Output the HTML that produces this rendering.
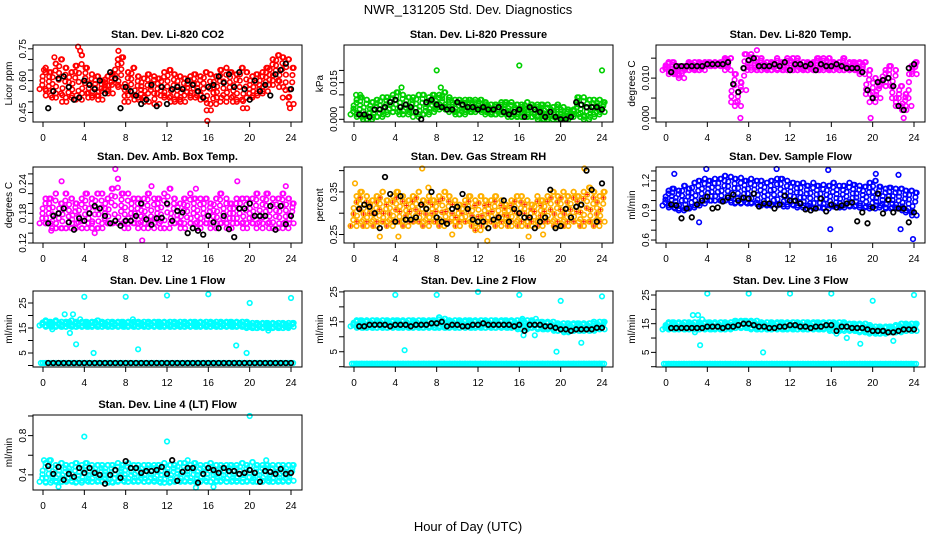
<!DOCTYPE html>
<html><head><meta charset="utf-8">
<style>
html,body{margin:0;padding:0;background:#fff;}
svg{display:block;font-family:"Liberation Sans",Arial,sans-serif;}
</style></head>
<body>
<svg id="chart" width="936" height="540" viewBox="0 0 936 540" xmlns="http://www.w3.org/2000/svg">
<rect x="0" y="0" width="936" height="540" fill="#fff"/>
<text x="468" y="14" text-anchor="middle" font-size="13">NWR_131205 Std. Dev. Diagnostics</text>
<text x="468" y="531" text-anchor="middle" font-size="13">Hour of Day (UTC)</text>
<g id="panels"></g>
</svg>
<script>
// ---- shared x data ----
const colHours = [0,0.5,1,1.5,2,2.5,3,3.5,4,4.5,5,5.5,6,6.5,7,7.5,8,8.5,9,9.5,10,10.5,11,11.5,12,12.5,13,13.5,14,14.5,15,15.5,16,16.5,17,17.5,18,18.5,19,19.5,20,20.5,21,21.5,22,22.5,23,23.5,24];
const blkHours = [0.5,1,1.5,2,2.5,3,3.5,4,4.5,5,5.5,6,6.5,7,7.5,8,8.5,9,9.5,10,10.5,11,11.5,12,12.5,13,13.5,14,14.5,15,15.5,16,16.5,17,17.5,18,18.5,19,19.5,20,20.5,21,21.5,22,22.5,23,23.5,24];
const xTicks = [0,4,8,12,16,20,24];

// ---- P1 CO2 ----
const co2Hi = [0.66,0.64,0.68,0.70,0.66,0.64,0.67,0.72,0.66,0.63,0.62,0.60,0.62,0.63,0.70,0.71,0.64,0.66,0.62,0.61,0.63,0.62,0.61,0.64,0.65,0.63,0.62,0.61,0.62,0.63,0.62,0.64,0.63,0.62,0.65,0.66,0.64,0.63,0.66,0.64,0.62,0.63,0.64,0.66,0.70,0.72,0.71,0.70,0.66];
const co2Lo = [0.56,0.53,0.52,0.54,0.50,0.52,0.53,0.51,0.54,0.52,0.53,0.51,0.55,0.54,0.58,0.57,0.50,0.53,0.51,0.52,0.50,0.54,0.49,0.53,0.52,0.50,0.51,0.50,0.53,0.52,0.53,0.51,0.46,0.49,0.52,0.50,0.52,0.50,0.51,0.47,0.52,0.53,0.54,0.55,0.58,0.60,0.57,0.52,0.49];
const co2Blk = [0.47,0.55,0.61,0.62,0.57,0.51,0.52,0.60,0.58,0.56,0.60,0.54,0.64,0.61,0.47,0.57,0.55,0.53,0.49,0.51,0.58,0.48,0.57,0.49,0.56,0.57,0.56,0.60,0.58,0.55,0.52,0.57,0.58,0.62,0.59,0.63,0.57,0.64,0.56,0.51,0.60,0.55,0.58,0.53,0.63,0.65,0.68,0.56];
const co2OutX = [3.4,3.6,7.3,1.1,0.1,15.9,23.9];
const co2OutY = [0.76,0.74,0.74,0.71,0.65,0.41,0.47];

// ---- P2 Pressure ----
const prsHi = [0.008,0.009,0.008,0.007,0.008,0.009,0.009,0.010,0.011,0.010,0.009,0.009,0.010,0.010,0.009,0.010,0.010,0.011,0.009,0.008,0.008,0.008,0.008,0.008,0.008,0.007,0.006,0.006,0.007,0.007,0.007,0.006,0.006,0.007,0.006,0.006,0.006,0.006,0.005,0.006,0.005,0.004,0.004,0.009,0.009,0.008,0.008,0.008,0.007];
const prsLo = [0.002,0.001,0.000,0.000,0.001,0.001,0.002,0.003,0.003,0.002,0.002,0.003,0.001,0.002,0.002,0.003,0.004,0.005,0.004,0.003,0.002,0.002,0.003,0.003,0.004,0.003,0.002,0.002,0.002,0.002,0.001,0.001,0.001,0.001,0.001,0.001,0.000,0.000,0.000,0.001,0.000,0.000,0.001,0.002,0.001,0.000,0.001,0.002,0.003];
const prsBlk = [0.002,0.002,0.001,0.004,0.004,0.005,0.007,0.008,0.005,0.006,0.005,0.003,0.000,0.007,0.008,0.006,0.005,0.004,0.004,0.007,0.006,0.005,0.005,0.004,0.005,0.004,0.004,0.005,0.003,0.002,0.003,0.004,0.001,0.005,0.004,0.003,0.001,0.003,0.001,0.000,0.000,0.001,0.007,0.006,0.005,0.005,0.005,0.004];
const prsOutX = [8,16,24,0.2,0.6,4.6,8.4];
const prsOutY = [0.020,0.022,0.020,0.010,0.010,0.013,0.013];

// ---- P3 Temp ----
const tmpHi = [0.014,0.014,0.013,0.013,0.014,0.014,0.014,0.014,0.014,0.014,0.014,0.015,0.015,0.011,0.009,0.016,0.016,0.015,0.015,0.014,0.014,0.015,0.014,0.015,0.015,0.015,0.014,0.014,0.014,0.015,0.015,0.015,0.014,0.014,0.015,0.014,0.014,0.014,0.014,0.012,0.010,0.009,0.012,0.013,0.012,0.008,0.006,0.013,0.014];
const tmpLo = [0.012,0.011,0.011,0.010,0.012,0.012,0.012,0.012,0.013,0.013,0.013,0.013,0.012,0.004,0.003,0.007,0.012,0.012,0.012,0.012,0.012,0.012,0.012,0.012,0.012,0.012,0.012,0.012,0.012,0.012,0.012,0.012,0.012,0.012,0.012,0.012,0.012,0.012,0.011,0.006,0.004,0.005,0.008,0.008,0.005,0.003,0.002,0.003,0.011];
const tmpBlk = [0.0115,0.013,0.013,0.013,0.013,0.013,0.013,0.0135,0.0135,0.0135,0.0135,0.014,0.0085,0.0065,0.0125,0.0145,0.015,0.013,0.013,0.013,0.0135,0.013,0.014,0.012,0.0135,0.0135,0.013,0.0135,0.012,0.0135,0.013,0.013,0.0135,0.013,0.0125,0.0125,0.0125,0.0115,0.007,0.005,0.009,0.0095,0.010,0.008,0.003,0.002,0.0125,0.0135];
const tmpOutX = [7.2,23,8.8,19.8];
const tmpOutY = [0,0,0.017,0];

// ---- P4 Amb Box Temp ----
const ambHi = [0.21,0.21,0.22,0.20,0.22,0.21,0.20,0.21,0.22,0.21,0.22,0.22,0.21,0.23,0.25,0.22,0.22,0.21,0.21,0.21,0.22,0.21,0.21,0.22,0.23,0.21,0.20,0.21,0.22,0.21,0.21,0.21,0.20,0.21,0.22,0.21,0.20,0.21,0.21,0.21,0.21,0.22,0.21,0.22,0.21,0.21,0.22,0.21,0.20];
const ambLo = [0.16,0.16,0.15,0.15,0.15,0.15,0.16,0.15,0.15,0.16,0.15,0.15,0.16,0.16,0.16,0.16,0.15,0.16,0.16,0.15,0.16,0.15,0.16,0.15,0.15,0.16,0.16,0.15,0.16,0.16,0.15,0.16,0.16,0.15,0.16,0.16,0.15,0.16,0.16,0.15,0.16,0.16,0.15,0.16,0.15,0.15,0.16,0.15,0.16];
const ambBlk = [0.16,0.175,0.18,0.19,0.162,0.147,0.17,0.165,0.18,0.195,0.19,0.175,0.16,0.165,0.155,0.165,0.165,0.175,0.2,0.168,0.157,0.17,0.171,0.2,0.165,0.185,0.182,0.14,0.15,0.145,0.137,0.175,0.162,0.15,0.175,0.148,0.132,0.19,0.19,0.2,0.175,0.175,0.175,0.195,0.147,0.195,0.158,0.175];
const ambOutX = [1.8,7,9.6,5,10.5,14.8,18.8,23.5,0.8];
const ambOutY = [0.245,0.27,0.125,0.14,0.235,0.23,0.245,0.235,0.145];

// ---- P5 RH ----
const rhHi = [0.34,0.35,0.34,0.33,0.34,0.35,0.33,0.34,0.35,0.34,0.33,0.34,0.35,0.33,0.34,0.33,0.34,0.35,0.34,0.33,0.32,0.33,0.34,0.33,0.34,0.33,0.33,0.34,0.33,0.32,0.33,0.34,0.34,0.33,0.32,0.34,0.33,0.34,0.35,0.34,0.35,0.34,0.35,0.34,0.35,0.36,0.35,0.34,0.35];
const rhLo = [0.27,0.28,0.27,0.28,0.27,0.28,0.28,0.27,0.28,0.28,0.27,0.28,0.28,0.28,0.27,0.28,0.28,0.27,0.28,0.28,0.27,0.28,0.28,0.27,0.26,0.27,0.28,0.28,0.27,0.28,0.27,0.28,0.27,0.28,0.27,0.28,0.27,0.28,0.28,0.27,0.28,0.27,0.28,0.28,0.27,0.28,0.28,0.27,0.28];
const rhBlk = [0.31,0.32,0.315,0.30,0.265,0.385,0.345,0.28,0.34,0.285,0.285,0.29,0.32,0.31,0.35,0.29,0.28,0.275,0.31,0.315,0.345,0.31,0.285,0.28,0.28,0.265,0.285,0.29,0.33,0.28,0.31,0.30,0.29,0.29,0.265,0.28,0.29,0.355,0.265,0.27,0.31,0.29,0.315,0.32,0.40,0.355,0.28,0.37];
const rhOutX = [0.1,6.6,12.9,16.9,22.3,2.5,4.3,7.2,9.5,18.3];
const rhOutY = [0.37,0.405,0.235,0.245,0.405,0.245,0.245,0.36,0.25,0.25];

// ---- P6 Sample Flow ----
const sfHi = [1.10,1.12,1.10,1.15,1.12,1.18,1.20,1.22,1.20,1.22,1.22,1.25,1.24,1.22,1.23,1.20,1.22,1.20,1.20,1.18,1.20,1.22,1.22,1.20,1.18,1.17,1.18,1.15,1.18,1.15,1.16,1.15,1.18,1.15,1.15,1.18,1.16,1.15,1.14,1.18,1.20,1.14,1.12,1.13,1.12,1.12,1.10,1.10,1.08];
const sfLo = [0.95,0.93,0.92,0.90,0.92,0.93,0.95,0.97,1.00,1.00,1.00,1.00,1.00,0.98,0.97,0.98,0.97,0.98,0.96,0.95,0.96,0.95,0.96,0.94,0.96,0.95,0.93,0.95,0.92,0.93,0.93,0.92,0.95,0.94,0.93,0.95,0.94,0.95,0.93,0.94,0.92,0.95,0.93,0.92,0.93,0.92,0.90,0.88,0.85];
const sfBlk = [0.96,0.95,0.82,0.92,0.83,0.96,1.0,1.04,0.92,0.93,0.99,1.03,1.06,1.0,1.03,1.02,1.07,0.94,0.97,0.97,0.92,0.96,1.05,1.0,1.0,0.97,0.91,0.9,0.92,1.02,0.89,0.96,0.93,0.95,0.97,0.98,0.79,0.88,0.77,0.93,1.07,0.87,1.01,0.88,0.92,0.92,0.78,0.88];
const sfOutX = [3.2,15.9,23.9,22.7,0.8,3.9,10.7,15.7,20.3,22.5];
const sfOutY = [0.78,0.71,0.61,0.71,1.27,1.32,1.32,1.31,1.27,1.26];

// ---- P7 Line 1 ----
const l1Hi = [18,17.5,18,17.5,17.5,18,17.5,17.5,17.5,17.5,18,17.5,17.5,17.5,17.5,17.5,17.5,17.5,17.5,17.5,17.5,17.5,17.5,17.5,17.5,17.5,17.5,17.5,17.5,17.5,17.5,17.5,17.5,17.5,17.5,17.5,17.5,17.5,17.5,17.5,17,17,17,17,17,17,17,17,17];
const l1Lo = [16,15.5,15.5,15.5,15.5,15.5,15.5,15.5,15.5,15.5,15.5,15.5,15.5,15.5,15.5,15.5,15.5,15.5,15.5,15.5,15.5,15.5,15.5,15.5,15.5,15.5,15.5,15.5,15.5,15.5,15.5,15.5,15.5,15.5,15.5,15.5,15.5,15.5,15.5,15.5,15,15,15,15,15,15,15,15,15.5];
const l1Base = [1,1,1,1,1,1,1,1,1,1,1,1,1,1,1,1,1,1,1,1,1,1,1,1,1,1,1,1,1,1,1,1,1,1,1,1,1,1,1,1,1,1,1,1,1,1,1,1,1];
const l1Blk = [1,1,1,1,1,1,1,1,1,1,1,1,1,1,1,1,1,1,1,1,1,1,1,1,1,1,1,1,1,1,1,1,1,1,1,1,1,1,1,1,1,1,1,1,1,1,1,1];
const l1OutX = [4,8,12,16,20,24,2.1,2.9,3.2,4.9,9.2,18.7,19.7,0.9,2.6,21.8,3.6,8.7];
const l1OutY = [27.5,27.5,28,28.5,25,27,20.5,20.5,8.5,5,6.5,8,5,14.5,13,14,18.5,18.5];

// ---- P8 Line 2 ----
const l2Hi = [15.5,15.5,15.5,15.5,15.5,15.5,15.5,15.5,15.5,15.5,15.5,15.5,15.5,15.5,15.5,15.5,16.5,16,15.5,15.5,15.5,15.5,15.5,15.5,15.5,15.5,15.5,15.5,15.5,15.5,15.5,15.5,15.5,15.5,15.5,15,15,15,15,14.5,14.5,14.5,14.5,14.5,14.5,14.5,15,15,15];
const l2Lo = [13.5,13,13,13,13,13,13,13,13,13,13,13,13,13,13,13,13,13,13,13,13,13,13,13,13,13,13,13,13,13,13,13,12.5,12.5,13,13,12.5,12.5,12.5,12,12,11.5,12,12,12,12,12,12.5,12.5];
const l2Base = [1,1,1,1,1,1,1,1,1,1,1,1,1,1,1,1,1,1,1,1,1,1,1,1,1,1,1,1,1,1,1,1,1,1,1,1,1,1,1,1,1,1,1,1,1,1,1,1,1];
const l2Blk = [13.5,13.5,14,14,14,14,13.5,14,14,14,13.5,14,14,14,14.5,14.5,15,13.5,14,14,13.5,13.5,14,14,14.5,14,14,14,14,14,13.5,14,12,14,14,14,13.5,13.5,13,12.5,12.5,12,12.5,12.5,12.5,12.5,13,13];
const l2OutX = [4,8,12,16,20,24,4.9,19.6,22,16.4,17.5,16.3,17.6];
const l2OutY = [24,24,25,24,22,23.5,5.5,5,8,10.5,10.5,16,16];

// ---- P9 Line 3 ----
const l3Hi = [15.5,15.5,15.5,15.5,15.5,15.5,15.5,15.5,15.5,15.5,15.5,15.5,15.5,16,16,16,16,16,15.5,15.5,15.5,15.5,15.5,15.5,15.5,15.5,15.5,15.5,15.5,15.5,15.5,15.5,15.5,15.5,15.5,15,15,15,15,14.5,14,14,14,14,14.5,15,15,15,15];
const l3Lo = [13,13,13,13,13,13,13,13,13,13,13,13,13,13.5,13.5,13.5,13.5,13,13,13,13,13,13,13,13,13,13,13,13,13,13,13,12.5,12.5,12.5,13,12.5,12.5,12,12,11.5,11.5,11.5,12,12,12,12.5,12.5,12.5];
const l3Base = [1,1,1,1,1,1,1,1,1,1,1,1,1,1,1,1,1,1,1,1,1,1,1,1,1,1,1,1,1,1,1,1,1,1,1,1,1,1,1,1,1,1,1,1,1,1,1,1,1];
const l3Blk = [13.5,13.5,13.5,13.5,13.5,13.5,13.5,14,14,14,13.5,14,14,14.5,15,15,14.5,14,14,13.5,13.5,14,14,14.5,14.5,14,14,13.5,14,14,14.5,14.5,12.5,14,14,13.5,13.5,13.5,13,12.5,12.5,12.5,12,12,12.5,13,13,13];
const l3OutX = [4,8,12,16,20,24,2.6,3.1,3.5,3.3,9.4,18.8,22,17.5,16.5,2.8];
const l3OutY = [25.5,25.5,25.5,25.5,23,25,18,18,16.5,7.5,5,8,9,10,11.5,12];

// ---- P10 Line 4 ----
const l4Hi = [0.52,0.55,0.5,0.52,0.5,0.5,0.52,0.5,0.52,0.5,0.5,0.5,0.5,0.5,0.52,0.5,0.52,0.5,0.5,0.5,0.5,0.5,0.5,0.52,0.5,0.5,0.52,0.52,0.5,0.52,0.5,0.5,0.52,0.5,0.5,0.5,0.5,0.5,0.52,0.5,0.53,0.5,0.5,0.5,0.5,0.5,0.5,0.5,0.5];
const l4Lo = [0.33,0.32,0.34,0.33,0.33,0.34,0.33,0.32,0.34,0.33,0.33,0.34,0.33,0.32,0.33,0.34,0.33,0.33,0.34,0.33,0.33,0.34,0.33,0.32,0.32,0.33,0.34,0.33,0.34,0.33,0.33,0.34,0.33,0.33,0.34,0.33,0.33,0.34,0.33,0.33,0.34,0.33,0.33,0.34,0.33,0.33,0.34,0.33,0.34];
const l4Blk = [0.49,0.41,0.48,0.35,0.41,0.38,0.47,0.42,0.47,0.42,0.40,0.31,0.40,0.45,0.37,0.54,0.47,0.47,0.42,0.44,0.44,0.45,0.48,0.41,0.55,0.34,0.43,0.47,0.47,0.32,0.41,0.47,0.45,0.42,0.47,0.44,0.44,0.41,0.42,0.45,0.42,0.33,0.44,0.43,0.41,0.46,0.41,0.42];
const l4OutX = [4,12,20,1.5,14.8,16.5,0.1,14,21.6];
const l4OutY = [0.79,0.74,1.0,0.28,0.27,0.28,0.55,0.55,0.55];

// ---- tick labels ----
const co2Ticks = [0.45,0.5,0.55,0.6,0.65,0.7,0.75]; const co2Labels = ["0.45","0.60","0.75"];
const prsTicks = [0,0.005,0.01,0.015,0.02]; const prsLabels = ["0.000","0.015"];
const tmpTicks = [0,0.005,0.01,0.015]; const tmpLabels = ["0.000","0.010"];
const ambTicks = [0.12,0.14,0.16,0.18,0.2,0.22,0.24,0.26]; const ambLabels = ["0.12","0.18","0.24"];
const rhTicks = [0.25,0.3,0.35,0.4]; const rhLabels = ["0.25","0.35"];
const sfTicks = [0.6,0.7,0.8,0.9,1.0,1.1,1.2,1.3]; const sfLabels = ["0.6","0.9","1.2"];
const flowTicks = [0,5,10,15,20,25]; const flowLabels = ["5","15","25"];
const l4Ticks = [0.4,0.6,0.8,1.0]; const l4Labels = ["0.4","0.8"];

const NS = "http://www.w3.org/2000/svg";
const root = document.getElementById('panels');
const colLeft = [33,344,656];
const rowTop = [45,167,291,415];
const rowH = [77,76,76,75];
const W = 269;

const panels = [
 {key:'co2', title:'Stan. Dev. Li-820 CO2', yl:'Licor ppm', r:0,c:0, ymin:0.405,ymax:0.768, hi:co2Hi, lo:co2Lo, base:null, blk:co2Blk, ox:co2OutX, oy:co2OutY, ticks:co2Ticks, labels:co2Labels, col:'#ff0000', col2:null},
 {key:'pressure', title:'Stan. Dev. Li-820 Pressure', yl:'kPa', r:0,c:1, ymin:-0.0011,ymax:0.0304, hi:prsHi, lo:prsLo, base:null, blk:prsBlk, ox:prsOutX, oy:prsOutY, ticks:prsTicks, labels:prsLabels, col:'#00d000', col2:null},
 {key:'temp', title:'Stan. Dev. Li-820 Temp.', yl:'degrees C', r:0,c:2, ymin:-0.001,ymax:0.0183, hi:tmpHi, lo:tmpLo, base:null, blk:tmpBlk, ox:tmpOutX, oy:tmpOutY, ticks:tmpTicks, labels:tmpLabels, col:'#ff00ff', col2:null},
 {key:'amb-box', title:'Stan. Dev. Amb. Box Temp.', yl:'degrees C', r:1,c:0, ymin:0.12,ymax:0.274, hi:ambHi, lo:ambLo, base:null, blk:ambBlk, ox:ambOutX, oy:ambOutY, ticks:ambTicks, labels:ambLabels, col:'#ff00ff', col2:null},
 {key:'rh', title:'Stan. Dev. Gas Stream RH', yl:'percent', r:1,c:1, ymin:0.23,ymax:0.4085, hi:rhHi, lo:rhLo, base:null, blk:rhBlk, ox:rhOutX, oy:rhOutY, ticks:rhTicks, labels:rhLabels, col:'#ffb000', col2:'#ff2000'},
 {key:'sample-flow', title:'Stan. Dev. Sample Flow', yl:'ml/min', r:1,c:2, ymin:0.57,ymax:1.34, hi:sfHi, lo:sfLo, base:null, blk:sfBlk, ox:sfOutX, oy:sfOutY, ticks:sfTicks, labels:sfLabels, col:'#0000ff', col2:null},
 {key:'line1', title:'Stan. Dev. Line 1 Flow', yl:'ml/min', r:2,c:0, ymin:-0.6,ymax:29.8, hi:l1Hi, lo:l1Lo, base:l1Base, blk:l1Blk, ox:l1OutX, oy:l1OutY, ticks:flowTicks, labels:flowLabels, col:'#00ffff', col2:null},
 {key:'line2', title:'Stan. Dev. Line 2 Flow', yl:'ml/min', r:2,c:1, ymin:-0.1,ymax:25.3, hi:l2Hi, lo:l2Lo, base:l2Base, blk:l2Blk, ox:l2OutX, oy:l2OutY, ticks:flowTicks, labels:flowLabels, col:'#00ffff', col2:null},
 {key:'line3', title:'Stan. Dev. Line 3 Flow', yl:'ml/min', r:2,c:2, ymin:-0.1,ymax:26.4, hi:l3Hi, lo:l3Lo, base:l3Base, blk:l3Blk, ox:l3OutX, oy:l3OutY, ticks:flowTicks, labels:flowLabels, col:'#00ffff', col2:null},
 {key:'line4', title:'Stan. Dev. Line 4 (LT) Flow', yl:'ml/min', r:3,c:0, ymin:0.246,ymax:1.01, hi:l4Hi, lo:l4Lo, base:null, blk:l4Blk, ox:l4OutX, oy:l4OutY, ticks:l4Ticks, labels:l4Labels, col:'#00ffff', col2:null}
];

function mk(tag, attrs, parent){
  const e = document.createElementNS(NS, tag);
  for (const k in attrs) e.setAttribute(k, attrs[k]);
  parent.appendChild(e);
  return e;
}

panels.forEach(p => {
  const L = colLeft[p.c], T = rowTop[p.r], H = rowH[p.r];
  const xs = h => L + 10 + h * (248/24);
  const ys = v => T + H - (v - p.ymin) / (p.ymax - p.ymin) * H;
  const g = mk('g', {}, root);
  
  

  const t = mk('text', {x: L + W/2, y: T - 7, 'text-anchor':'middle', 'font-size':'11', 'font-weight':'bold'}, g);
  t.textContent = p.title;
  
  

  const yt = mk('text', {transform:`translate(${L-21},${T+H/2}) rotate(-90)`, 'text-anchor':'middle', 'font-size':'10'}, g);
  yt.textContent = p.yl;
  
  

  const pts = mk('g', {}, g);
  
  
  const fr = [0,0.2,0.4,0.6,0.8,1];
  function dot(x, y, col, parent, sw){
    const c = mk('circle', {cx:x.toFixed(1), cy:y.toFixed(1), r:2.3, fill:'none', stroke:col, 'stroke-width':sw}, parent);
    
    
  }
  p.hi.forEach((hv, i) => {
    const lv = p.lo[i];
    fr.forEach((f, j) => {
      const v = lv + (hv - lv) * f;
      const off = (j - 2.5) * 0.09 + (((i * 3 + j * 5) % 7) - 3) * 0.035;
      const x = xs(colHours[i] + off);
      dot(x, ys(v), p.col, pts, 1.6);
      if (p.col2 && j % 2 === 0) {
        const s = mk('path', {d:`M${x-2},${ys(v)}h4M${x},${ys(v)-2}v4`, fill:'none', stroke:p.col2, 'stroke-width':1}, pts);
        
        
      }
    });
    dot(xs(colHours[i] + 0.25), ys(hv), p.col, pts, 1.6);
    dot(xs(colHours[i] + 0.25), ys(lv), p.col, pts, 1.6);
  });
  if (p.base) {
    p.base.forEach((bv, i) => {
      [-0.2, 0, 0.2].forEach(o => dot(xs(colHours[i] + o), ys(bv), p.col, pts, 1.6));
    });
  }
  p.ox.forEach((ov, i) => dot(xs(ov), ys(p.oy[i]), p.col, pts, 1.6));
  const bg = mk('g', {}, g);
  
  
  p.blk.forEach((bv, i) => dot(xs(blkHours[i]), ys(bv), '#000', bg, 1.7));

  const box = mk('rect', {x:L, y:T, width:W, height:H, fill:'none', stroke:'#000', 'stroke-width':1}, g);
  
  

  const xa = mk('g', {}, g);
  
  
  mk('line', {x1:xs(0), x2:xs(24), y1:T+H, y2:T+H, stroke:'#000'}, xa);
  xTicks.forEach(tv => {
    mk('line', {x1:xs(tv), x2:xs(tv), y1:T+H, y2:T+H+5, stroke:'#000'}, xa);
    const tl = mk('text', {x:xs(tv), y:T+H+19, 'text-anchor':'middle', 'font-size':'10'}, xa);
    tl.textContent = tv;
    
    
  });
  const ya = mk('g', {}, g);
  
  
  p.ticks.forEach(tv => {
    mk('line', {x1:L-5, x2:L, y1:ys(tv), y2:ys(tv), stroke:'#000'}, ya);
  });
  p.labels.forEach(lb => {
    const v = parseFloat(lb);
    const tl = mk('text', {transform:`translate(${L-7},${ys(v)}) rotate(-90)`, 'text-anchor':'middle', 'font-size':'10'}, ya);
    tl.textContent = lb;
    
    
  });
});
</script>
</body></html>
